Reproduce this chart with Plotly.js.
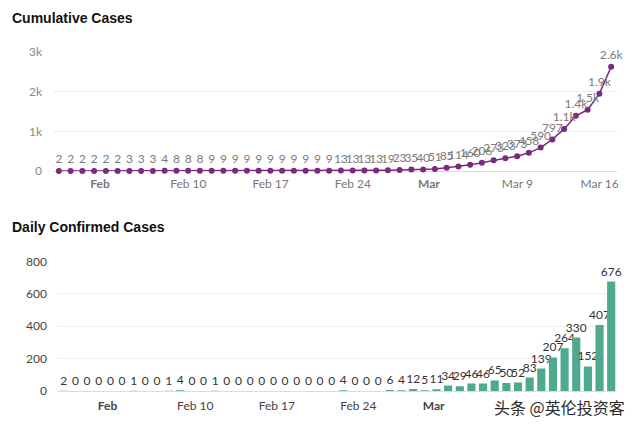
<!DOCTYPE html>
<html>
<head>
<meta charset="utf-8">
<script src="https://cdn.plot.ly/plotly-3.0.1.min.js"></script>
<style>html,body{margin:0;padding:0;background:#fff;}#chart{width:640px;height:427px;}</style>
</head>
<body>
<div id="chart"></div>
<script>
// ---- data ----
const startDate = '2020-01-31';
const cumulativeCases = [2,2,2,2,2,2,3,3,3,4,8,8,8,9,9,9,9,9,9,9,9,9,9,9,
  13,13,13,13,19,23,35,40,51,85,114,160,206,273,323,373,458,590,797,1061,1391,1543,1950,2626];
const dailyCases = [2,0,0,0,0,0,1,0,0,1,4,0,0,1,0,0,0,0,0,0,0,0,0,0,
  4,0,0,0,6,4,12,5,11,34,29,46,46,65,50,52,83,139,207,264,330,152,407,676];
const tickDates = ['2020-02-03','2020-02-10','2020-02-17','2020-02-24','2020-03-02','2020-03-09','2020-03-16'];
const tickLabels = ['Feb','Feb 10','Feb 17','Feb 24','Mar','Mar 9','Mar 16'];
const monthTicks = ['Feb','Mar'];
const cumTickVals = [0,1000,2000,3000];
const cumTickText = ['0','1k','2k','3k'];
const dailyTickVals = [0,200,400,600,800];
const titles = ['Cumulative Cases','Daily Confirmed Cases'];
const watermark = '头条 @英伦投资客';

// dates for each day
const dates = [];
{
  const d0 = new Date(startDate + 'T00:00:00Z');
  for (let i = 0; i < cumulativeCases.length; i++) {
    const d = new Date(d0.getTime() + i * 86400000);
    dates.push(d.toISOString().slice(0,10));
  }
}
function fmt(v){ return v >= 1000 ? (v/1000).toFixed(1) + 'k' : String(v); }
const NB = '\u00A0\u00A0\u00A0\u00A0';
function tickText(){
  return tickLabels.map(t => monthTicks.includes(t) ? '<b>' + t + '</b>' + NB : t);
}
const xr0 = new Date(new Date(dates[0] + 'T00:00:00Z').getTime() - 12*3600000).toISOString();
const xr1 = new Date(new Date(dates[dates.length-1] + 'T00:00:00Z').getTime() + 12*3600000).toISOString();

const purple = '#7b2a7e';
const teal = '#4fa98f';
const F = 'Lato, "Open Sans", sans-serif';

const traces = [
  {
    type: 'scatter', mode: 'lines+markers+text',
    x: dates, y: cumulativeCases,
    text: cumulativeCases.map(fmt), textposition: 'top center',
    textfont: {family: F, size: 12, color: '#7a7a7a'},
    line: {color: purple, width: 1.5},
    marker: {color: purple, size: 6},
    cliponaxis: false, xaxis: 'x', yaxis: 'y', hoverinfo: 'x+y'
  },
  {
    type: 'bar', x: dates, y: dailyCases,
    text: dailyCases.map(String), textposition: 'outside', constraintext: 'none',
    textfont: {family: F, size: 12, color: '#333'},
    marker: {color: teal}, cliponaxis: false,
    xaxis: 'x2', yaxis: 'y2'
  }
];

const H = 427, W = 640;
const commonX = {
  type: 'date', range: [xr0, xr1], showgrid: false, zeroline: false, showline: false,
  ticks: '', tickvals: tickDates, ticktext: tickText(), ticklabelshift: 12, ticklabelstandoff: 4,
  fixedrange: true
};
const layout = {
  width: W, height: H, margin: {l: 0, r: 0, t: 0, b: 0},
  paper_bgcolor: '#fff', plot_bgcolor: '#fff', showlegend: false, bargap: 0.3,
  xaxis: Object.assign({}, commonX, {domain: [53/W, 617/W], anchor: 'y',
    tickfont: {family: F, size: 12, color: '#777'}}),
  yaxis: {domain: [(H-171)/H, (H-52)/H], range: [0, 3000], anchor: 'x',
    tickvals: cumTickVals, ticktext: cumTickText, ticks: '', ticklabelstandoff: 10,
    showgrid: true, gridcolor: '#eeeeee', gridwidth: 1,
    zeroline: true, zerolinecolor: '#dddddd', zerolinewidth: 1,
    tickfont: {family: F, size: 12, color: '#8a8a8a'}, fixedrange: true},
  xaxis2: Object.assign({}, commonX, {domain: [58/W, 617/W], anchor: 'y2',
    ticklabelshift: 15, ticklabelstandoff: 6,
    tickfont: {family: F, size: 12, color: '#444'}}),
  yaxis2: {domain: [(H-391)/H, (H-261.5)/H], range: [0, 800], anchor: 'x2',
    tickvals: dailyTickVals, ticks: '', ticklabelstandoff: 10,
    showgrid: true, gridcolor: '#eeeeee', gridwidth: 1,
    zeroline: true, zerolinecolor: '#dddddd', zerolinewidth: 1,
    tickfont: {family: F, size: 12, color: '#444'}, fixedrange: true},
  annotations: [
    {xref: 'paper', yref: 'paper', x: 10/W, y: (H-18)/H, xanchor: 'left', yanchor: 'middle',
     text: '<b>' + titles[0] + '</b>', showarrow: false,
     font: {family: '"Liberation Sans", Arial, sans-serif', size: 14, color: '#111'}},
    {xref: 'paper', yref: 'paper', x: 10/W, y: (H-227)/H, xanchor: 'left', yanchor: 'middle',
     text: '<b>' + titles[1] + '</b>', showarrow: false,
     font: {family: '"Liberation Sans", Arial, sans-serif', size: 14, color: '#111'}},
    {xref: 'paper', yref: 'paper', x: 627/W, y: (H-407)/H, xanchor: 'right', yanchor: 'middle',
     text: watermark, showarrow: false, bgcolor: '#ffffff', borderpad: 1,
     font: {family: '"Noto Sans CJK SC", sans-serif', size: 16, color: '#2a2a2a'}}
  ]
};
Plotly.newPlot('chart', traces, layout, {displayModeBar: false, staticPlot: true});
</script>
</body>
</html>
